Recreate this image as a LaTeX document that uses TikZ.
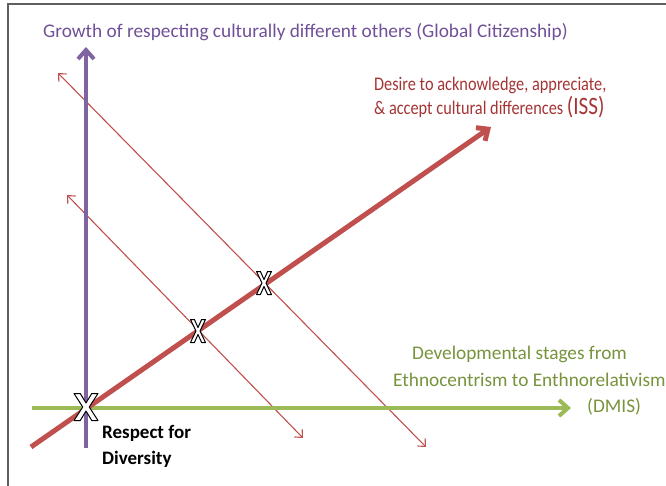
\documentclass[tikz,border=0pt]{standalone}
\usepackage{fontspec}
\setmainfont{Carlito}
\usetikzlibrary{arrows.meta}
\definecolor{framegray}{RGB}{95,95,95}
\definecolor{axispurple}{RGB}{128,100,162}
\definecolor{axisgreen}{RGB}{155,187,89}
\definecolor{axisred}{RGB}{192,80,77}
\definecolor{textpurple}{RGB}{112,80,152}
\definecolor{textred}{RGB}{165,52,52}
\definecolor{textgreen}{RGB}{119,147,60}
% narrower setting for the ISS caption
\newcommand{\narrowtext}[1]{\scalebox{0.845}[1]{#1}}
\tikzset{
  frameline/.style={framegray, line width=1.5pt},
  mainaxis/.style={line width=4pt, -{Straight Barb[length=9pt, width=16pt]}},
  linkarrow/.style={axisred, line width=1.1pt, {Straight Barb[length=6pt, width=11pt]}-{Straight Barb[length=6pt, width=11pt]}},
  lbl/.style={anchor=base west, inner sep=0pt, font=\fontsize{19.3}{22}\selectfont},
  crossmark/.pic={
    \draw[black, line width=1pt, fill=white, line join=round]
      (-1,-1) -- (-0.48,-1) -- (0,-0.3) -- (0.48,-1) -- (1,-1) -- (0.27,0)
      -- (1,1) -- (0.48,1) -- (0,0.3) -- (-0.48,1) -- (-1,1) -- (-0.27,0) -- cycle;
  }
}
\begin{document}
\begin{tikzpicture}[x=1pt, y=-1pt]
    \useasboundingbox (0,0) rectangle (666,486);
    % frame edges
    \coordinate (ftl) at (8,4);
    \coordinate (ftr) at (666,4);
    \coordinate (fbl) at (8,486);
    \draw[frameline] (fbl) -- (ftl) -- (ftr);
    % axis end points
    \coordinate (pbot) at (86,448);
    \coordinate (ptop) at (86,47);
    \coordinate (gleft) at (32,408);
    \coordinate (gright) at (571,408);
    \coordinate (rlow) at (31,447);
    \coordinate (rhigh) at (491,127);
    % thin arrows
    \coordinate (aup) at (58,73);
    \coordinate (adown) at (426,447);
    \coordinate (bup) at (67,195);
    \coordinate (bdown) at (303,438);
    \draw[linkarrow] (aup) -- (adown);
    \draw[linkarrow] (bup) -- (bdown);
    % the three axes
    \draw[mainaxis, axisgreen] (gleft) -- (gright);
    \draw[mainaxis, axispurple] (pbot) -- (ptop);
    \draw[mainaxis, axisred, line width=5pt] (rlow) -- (rhigh);
    % crossings
    \pic[xscale=12, yscale=13.5] at (86,407) {crossmark};
    \pic[xscale=7.5, yscale=11.5] at (198,331) {crossmark};
    \pic[xscale=7.5, yscale=11.5] at (264,283) {crossmark};
    % labels
    \node[lbl, textpurple] (gc) at (43,38) {Growth of respecting culturally different others (Global Citizenship)};
    \node[lbl, textred] (iss1) at (374,91) {\narrowtext{Desire to acknowledge, appreciate,}};
    \node[lbl, textred] (iss2) at (374,115) {\narrowtext{\& accept cultural differences {\fontsize{25}{27}\selectfont(ISS)}}};
    \node[lbl, textgreen] (dm1) at (412,359) {Developmental stages from};
    \node[lbl, textgreen] (dm2) at (393,386) {Ethnocentrism to Enthnorelativism};
    \node[lbl, textgreen] (dm3) at (587,412) {(DMIS)};
    \node[lbl, font=\fontsize{19}{22}\selectfont\bfseries] (rd1) at (102,438) {Respect for};
    \node[lbl, font=\fontsize{19}{22}\selectfont\bfseries] (rd2) at (102,464) {Diversity};
\end{tikzpicture}
\end{document}
